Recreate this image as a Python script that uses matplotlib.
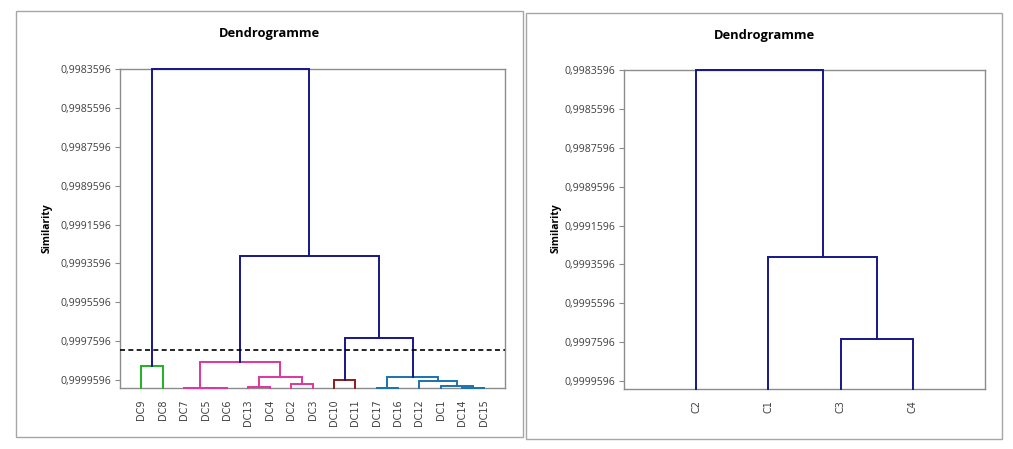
import matplotlib
matplotlib.use("Agg")
import matplotlib.pyplot as plt
from matplotlib.patches import Rectangle

# left dendrogram: leaves in display order
leaves_dc = ["DC9", "DC8", "DC7", "DC5", "DC6", "DC13", "DC4", "DC2", "DC3",
             "DC10", "DC11", "DC17", "DC16", "DC12", "DC1", "DC14", "DC15"]
# merges (node ids: leaves 0..16, then 17.. in merge order)
merge_a = [3, 2, 5, 7, 19, 18, 0, 9, 11, 15, 14, 13, 25, 24, 22, 23]
merge_b = [4, 17, 6, 8, 20, 21, 1, 10, 12, 16, 26, 27, 28, 29, 30, 31]
merge_sim = [1.0, 1.0, 0.999993, 0.9999806, 0.9999416, 0.9998645,
             0.9998866, 0.9999596, 1.0, 1.0, 0.9999879, 0.9999637,
             0.9999416, 0.999742, 0.999322, 0.9983596]
merge_group = ["C1", "C1", "C1", "C1", "C1", "C1", "C2", "C3",
               "C4", "C4", "C4", "C4", "C4", "top", "top", "top"]
truncation = 0.999806

# right dendrogram (classes)
leaves_c = ["C2", "C1", "C3", "C4"]
merge_a_c = [2, 1, 0]
merge_b_c = [3, 4, 5]
merge_sim_c = [0.999742, 0.999322, 0.9983596]
merge_group_c = ["top", "top", "top"]

yticks = [0.9983596, 0.9985596, 0.9987596, 0.9989596, 0.9991596,
          0.9993596, 0.9995596, 0.9997596, 0.9999596]

colors = {"top": "#16168a", "C1": "#e0359f", "C2": "#1db31d",
          "C3": "#8e1b1b", "C4": "#1b72b0"}

W, H = 1013, 449
fig = plt.figure(figsize=(W / 100, H / 100), dpi=100)
plt.rcParams['font.family'] = ['DejaVu Sans']


def draw_tree(ax, leaves, ma, mb, sims, groups):
    n = len(leaves)
    xs = [i + 1 for i in range(n)]
    hs = [1.0] * n
    for a, b, s, g in zip(ma, mb, sims, groups):
        ax.plot([xs[a], xs[a], xs[b], xs[b]], [hs[a], s, s, hs[b]],
                color=colors[g], lw=1.4, clip_on=False, zorder=3,
                solid_joinstyle="miter")
        xs.append((xs[a] + xs[b]) / 2)
        hs.append(s)
    ax.set_xticks(range(1, n + 1))
    ax.set_xticklabels(leaves, rotation=90, fontsize=7, color="#404040")
    ax.set_xlim(0, n + 1)


def style(ax):
    ax.set_ylim(1.0, 0.9983596)
    ax.set_yticks(yticks)
    ax.set_yticklabels([f"{v:.7f}".replace(".", ",") for v in yticks],
                       fontsize=7.6, color="#404040", family="Open Sans")
    for sp in ax.spines.values():
        sp.set_color("#8c8c8c")
        sp.set_linewidth(1.0)
    ax.tick_params(axis="y", length=3.5, color="#8c8c8c", pad=2.5)
    ax.tick_params(axis="x", length=0, pad=8)


ax1 = fig.add_axes([120 / W, 1 - 388 / H, 385 / W, 319 / H])
draw_tree(ax1, leaves_dc, merge_a, merge_b, merge_sim, merge_group)
style(ax1)
ax1.axhline(truncation, color="black", lw=1.2, ls=(0, (3, 2)), zorder=4)

ax2 = fig.add_axes([624 / W, 1 - 389 / H, 361 / W, 319 / H])
draw_tree(ax2, leaves_c, merge_a_c, merge_b_c, merge_sim_c, merge_group_c)
style(ax2)

for (x0, y0, x1, y1), cx, lx in [((16, 11, 523, 437), 269.5, 47),
                                  ((526, 13, 1002, 439), 764, 556)]:
    fig.patches.append(Rectangle((x0 / W, 1 - y1 / H), (x1 - x0) / W,
                                 (y1 - y0) / H, transform=fig.transFigure,
                                 fill=False, ec="#a6a6a6", lw=1.0))
    fig.text(cx / W, 1 - (y0 + 22) / H, "Dendrogramme", ha="center",
             va="center", fontsize=9.3, fontweight="bold", color="black",
             family="Open Sans")
    fig.text(lx / W, 1 - 228 / H, "Similarity", ha="center", va="center",
             rotation=90, fontsize=7.5, fontweight="bold", color="black",
             family="Open Sans")

fig.savefig("out.png", dpi=100)
